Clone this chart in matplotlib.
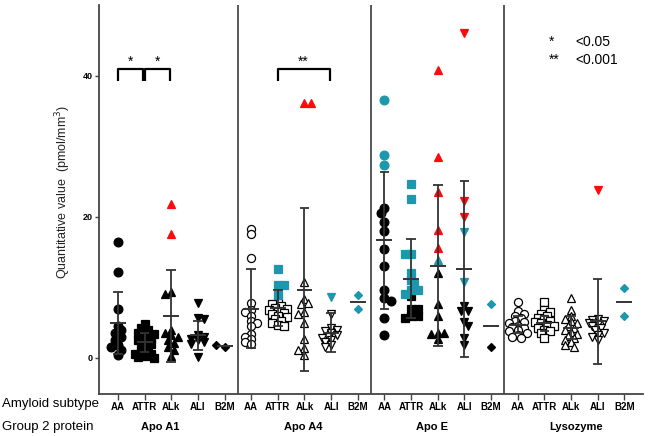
import numpy as np
import matplotlib
matplotlib.use("Agg")
import matplotlib.pyplot as plt

plt.rcParams['font.family'] = ['Liberation Sans', 'DejaVu Sans']

# ---------------- data ----------------
subtypes = ["AA", "ATTR", "ALk", "ALI", "B2M"]
proteins = ["Apo A1", "Apo A4", "Apo E", "Lysozyme"]

# Apo A1 (filled black markers)
apoa1_black = {
    "AA": [16.4, 12.2, 7.0, 4.6, 4.0, 3.5, 3.0, 2.6, 1.8, 1.5, 1.2, 0.4],
    "ATTR": [4.8, 4.2, 3.9, 3.6, 3.4, 3.0, 2.8, 2.5, 2.2, 2.0, 1.6, 1.2, 0.9, 0.6, 0.3, 0.1, 0.0, 0.5],
    "ALk": [9.3, 9.1, 4.0, 3.6, 3.2, 3.0, 2.6, 2.1, 1.6, 1.2, 0.3],
    "ALI": [7.8, 5.6, 5.5, 3.2, 3.0, 2.7, 2.5, 2.2, 2.0, 0.1],
    "B2M": [1.5, 1.9],
}
apoa1_teal = {}
apoa1_red = {"ALk": [21.8, 17.5]}
apoa1_mean = [4.9, 2.2, 6.0, 3.2, 1.7]
apoa1_sd = [4.4, 1.3, 6.5, 2.1, np.nan]

# Apo A4 (open markers)
apoa4_black = {
    "AA": [18.3, 17.5, 14.1, 7.8, 6.8, 6.5, 6.0, 5.3, 5.0, 4.5, 3.4, 3.0, 2.7, 2.3, 2.0],
    "ATTR": [7.8, 7.6, 7.3, 7.1, 7.0, 6.8, 6.6, 6.4, 6.3, 6.0, 5.8, 5.5, 5.2, 5.0, 4.7, 4.5],
    "ALk": [10.7, 8.4, 7.8, 7.6, 6.5, 6.3, 4.9, 2.7, 1.4, 1.2, 0.4],
    "ALI": [6.3, 4.2, 4.0, 3.8, 3.5, 3.2, 3.0, 2.8, 2.5, 2.2, 1.8, 1.5],
    "B2M": [],
}
apoa4_teal = {"ATTR": [12.6, 10.4, 10.4, 8.9], "ALI": [8.7], "B2M": [8.9, 7.0]}
apoa4_red = {"ALk": [36.1, 36.1]}
apoa4_mean = [7.0, 7.1, 9.7, 3.6, 8.0]
apoa4_sd = [5.6, 2.5, 11.5, 2.8, np.nan]

# Apo E (filled black markers)
apoe_black = {
    "AA": [21.2, 20.6, 19.2, 18.0, 15.4, 13.1, 9.7, 8.5, 8.1, 5.6, 3.2],
    "ATTR": [8.8, 6.9, 6.9, 5.9, 5.9, 5.7],
    "ALk": [12.1, 7.6, 6.0, 3.6, 3.6, 3.4, 2.7],
    "ALI": [7.3, 6.7, 6.7, 5.1, 4.5, 2.9, 1.9],
    "B2M": [1.5],
}
apoe_teal = {
    "AA": [36.5, 28.7, 27.3],
    "ATTR": [24.6, 22.5, 14.7, 14.7, 12.1, 11.1, 10.5, 9.6, 9.6, 9.1],
    "ALk": [13.9],
    "ALI": [17.9, 10.8],
    "B2M": [7.7],
}
apoe_red = {"ALk": [40.8, 28.4, 23.5, 18.1, 15.6], "ALI": [46.0, 22.2, 20.0]}
apoe_mean = [16.7, 11.2, 13.1, 12.6, 4.6]
apoe_sd = [9.7, 5.6, 11.4, 12.5, np.nan]

# Lysozyme (open markers)
lyso_black = {
    "AA": [8.0, 6.6, 6.3, 6.0, 5.6, 5.3, 5.1, 4.9, 4.6, 4.4, 4.2, 4.0, 3.8, 3.6, 3.3, 3.0, 2.8],
    "ATTR": [8.0, 6.8, 6.5, 6.2, 6.0, 5.7, 5.5, 5.3, 5.1, 4.9, 4.7, 4.5, 4.3, 4.0, 3.8, 3.5, 2.8],
    "ALk": [8.5, 6.8, 5.9, 5.5, 5.2, 5.0, 4.6, 4.3, 4.0, 3.7, 3.4, 3.1, 2.8, 2.5, 2.2, 1.8, 1.6],
    "ALI": [5.5, 5.4, 5.2, 5.0, 4.8, 4.5, 4.2, 4.0, 3.6, 3.3, 3.0, 2.6],
    "B2M": [],
}
lyso_teal = {"B2M": [9.9, 6.0]}
lyso_red = {"ALI": [23.8]}
lyso_mean = [4.7, 4.9, 4.3, 5.2, 7.9]
lyso_sd = [1.2, 1.1, 1.6, 6.0, np.nan]

sig_brackets = [(0, 1, "*"), (1, 2, "*"), (6, 8, "**")]   # (from, to, label) in subtype positions
sig_legend = [("*", "<0.05"), ("**", "<0.001")]

# ---------------- style / layout ----------------
TEAL = "#1D97AE"
RED = "#FF0A0A"
DARK = "#333333"
markers = ["o", "s", "^", "v", "D"]
groups = [
    (apoa1_black, apoa1_teal, apoa1_red, apoa1_mean, apoa1_sd, True),
    (apoa4_black, apoa4_teal, apoa4_red, apoa4_mean, apoa4_sd, False),
    (apoe_black, apoe_teal, apoe_red, apoe_mean, apoe_sd, True),
    (lyso_black, lyso_teal, lyso_red, lyso_mean, lyso_sd, False),
]
group_label_pos = [1.6, 6.95, 11.8, 17.2]

W, H = 650, 436
fig = plt.figure(figsize=(W / 100, H / 100), dpi=100)
AX_L, AX_R, AX_T, AX_B = 99, 643, 5, 394
ax = fig.add_axes([AX_L / W, (H - AX_B) / H, (AX_R - AX_L) / W, (AX_B - AX_T) / H])
XMIN, XMAX = -0.71, 19.7
YMIN, YMAX = -5.1, 50.0
ax.set_xlim(XMIN, XMAX)
ax.set_ylim(YMIN, YMAX)
PX_X = (AX_R - AX_L) / (XMAX - XMIN)
PX_Y = (AX_B - AX_T) / (YMAX - YMIN)


def swarm_offsets(vals, diam, max_off=11.0):
    """Compact, overlapping swarm: offsets (in x data units)."""
    coll = diam * 0.58
    step = diam * 0.38
    placed, offs = [], []
    for i, v in enumerate(vals):
        yp = v * PX_Y
        pref = 1 if i % 2 == 0 else -1
        cands = [0.0]
        k = 1
        while k * step <= max_off:
            cands += [pref * k * step, -pref * k * step]
            k += 1
        best = None
        for xo in cands:
            if all((xo - a) ** 2 + (yp - b) ** 2 >= coll ** 2 for a, b in placed):
                best = xo
                break
        if best is None:
            # least crowded candidate
            best = max(cands, key=lambda xo: min(((xo - a) ** 2 + (yp - b) ** 2) for a, b in placed))
        placed.append((best, yp))
        offs.append(best / PX_X)
    return offs


for g, (blk, teal, red, means, sds, filled) in enumerate(groups):
    for i, st in enumerate(subtypes):
        pos = g * 5 + i
        pts = [(v, "k") for v in blk.get(st, [])] + \
              [(v, "t") for v in teal.get(st, [])] + \
              [(v, "r") for v in red.get(st, [])]
        mk = markers[i]
        if mk == "D":
            ms, diam = 3.6, 11.0
        elif filled:
            ms, diam = 6.3, 8.5
        else:
            ms, diam = 5.8, 8.0
        offs = swarm_offsets([p[0] for p in pts], diam)
        for (v, c), o in zip(pts, offs):
            if c == "t":
                fc, ec = TEAL, TEAL
            elif c == "r":
                fc, ec = RED, RED
            elif filled:
                fc, ec = "black", "black"
            else:
                fc, ec = "white", "black"
            ax.plot(pos + o, v, marker=mk, ls="none", ms=ms, mfc=fc, mec=ec,
                    mew=0.9, zorder=3)
        m, s = means[i], sds[i]
        ax.hlines(m, pos - 0.3, pos + 0.3, color=DARK, lw=1.4, zorder=4)
        if not np.isnan(s):
            ax.vlines(pos, m - s, m + s, color=DARK, lw=1.3, zorder=4)
            ax.hlines([m - s, m + s], pos - 0.18, pos + 0.18, color=DARK, lw=1.3, zorder=4)

# group dividers
for b in [4.5, 9.5, 14.5]:
    ax.axvline(b, color="#4a4a4a", lw=1.3, zorder=1)

# significance brackets
for a, b, lab in sig_brackets:
    x0, x1 = a, b - 0.06
    ax.plot([x0, x0, x1, x1], [39.2, 41.0, 41.0, 39.2], color="black", lw=1.6,
            solid_capstyle="butt", zorder=4)
    ax.text((x0 + x1) / 2, 41.0, lab, ha="center", va="bottom", fontsize=10)

# axes styling
for sp in ["top", "right"]:
    ax.spines[sp].set_visible(False)
for sp in ["left", "bottom"]:
    ax.spines[sp].set_color("#444444")
    ax.spines[sp].set_linewidth(1.3)

ax.set_yticks([0, 20, 40])
ax.set_yticklabels(["0", "20", "40"], fontsize=6.5, fontweight="bold")
ax.tick_params(axis="y", length=3, width=1, pad=1.5, color="#444444")
ax.set_xticks(range(20))
ax.set_xticklabels(subtypes * 4, fontsize=7, fontweight="bold")
ax.tick_params(axis="x", length=4, width=1, pad=1.5, color="#444444")

ax.set_ylabel("Quantitative value  (pmol/mm$^3$)", fontsize=9, color="#222222")
ax.yaxis.set_label_coords(-0.048, 0.52)


def ftext(xp, yp, s, **kw):
    fig.text(xp / W, 1 - yp / H, s, **kw)


ftext(2, 404, "Amyloid subtype", fontsize=9.5, ha="left", va="center")
ftext(2, 427, "Group 2 protein", fontsize=9.5, ha="left", va="center")
for p, name in zip(group_label_pos, proteins):
    xp = AX_L + (p - XMIN) * PX_X
    ftext(xp, 427, name, fontsize=8, fontweight="bold", ha="center", va="center")

for j, (st, txt) in enumerate(sig_legend):
    ftext(549, 46 + 18 * j, st, fontsize=10, ha="left", va="baseline")
    ftext(575, 46 + 18 * j, txt, fontsize=10, ha="left", va="baseline")

fig.savefig("out.png", dpi=100)
